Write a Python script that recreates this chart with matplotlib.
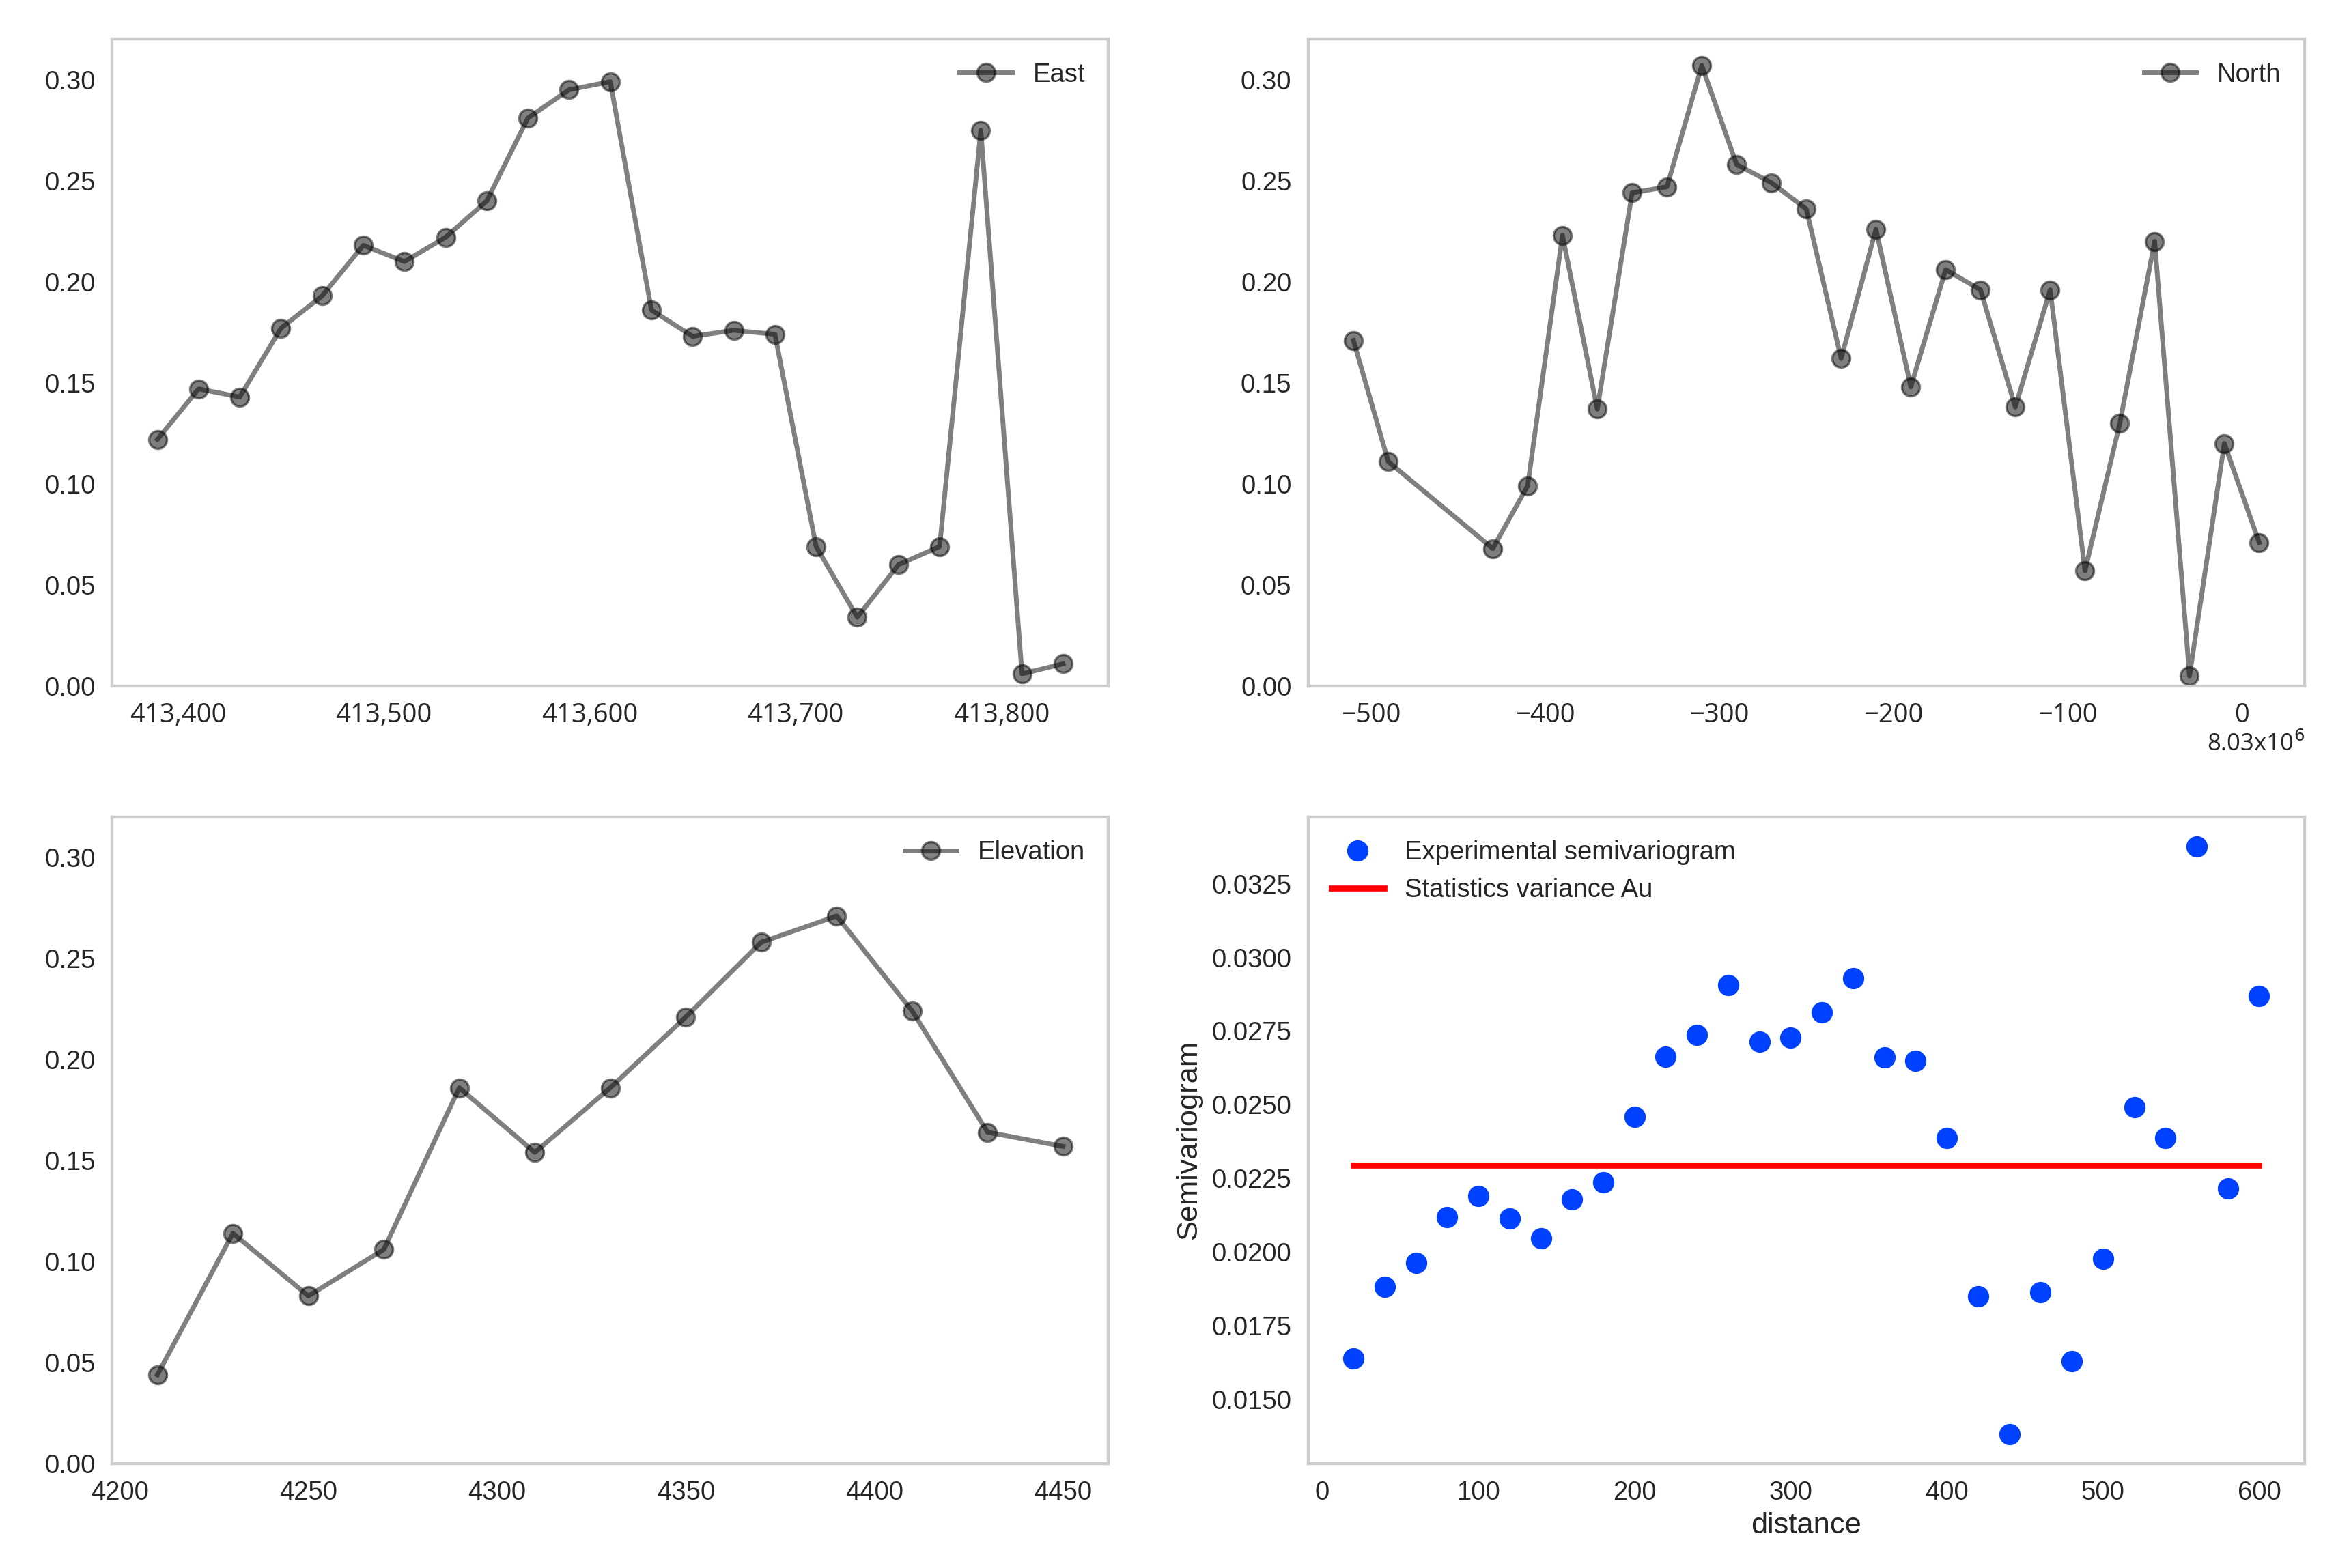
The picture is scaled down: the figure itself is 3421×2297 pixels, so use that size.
import numpy as np
import matplotlib
matplotlib.use("Agg")
import matplotlib.pyplot as plt
from matplotlib.ticker import StrMethodFormatter

# East profile
east_x = [413390, 413410, 413430, 413450, 413470, 413490, 413510, 413530, 413550, 413570,
          413590, 413610, 413630, 413650, 413670, 413690, 413710, 413730, 413750, 413770,
          413790, 413810, 413830]
east_y = [0.122, 0.147, 0.143, 0.177, 0.193, 0.218, 0.210, 0.222, 0.240, 0.281,
          0.295, 0.299, 0.186, 0.173, 0.176, 0.174, 0.069, 0.034, 0.060, 0.069,
          0.275, 0.006, 0.011]

# North profile (relative to 8.03x10^6)
north_x = [-510, -490, -430, -410, -390, -370, -350, -330, -310, -290, -270, -250, -230,
           -210, -190, -170, -150, -130, -110, -90, -70, -50, -30, -10, 10]
north_y = [0.171, 0.111, 0.068, 0.099, 0.223, 0.137, 0.244, 0.247, 0.307, 0.258, 0.249,
           0.236, 0.162, 0.226, 0.148, 0.206, 0.196, 0.138, 0.196, 0.057, 0.130, 0.220,
           0.005, 0.120, 0.071]

# Elevation profile
elev_x = [4210, 4230, 4250, 4270, 4290, 4310, 4330, 4350, 4370, 4390, 4410, 4430, 4450]
elev_y = [0.044, 0.114, 0.083, 0.106, 0.186, 0.154, 0.186, 0.221, 0.258, 0.271, 0.224,
          0.164, 0.157]

# Semivariogram
lag = list(range(20, 620, 20))
gamma = [0.01639, 0.01881, 0.01964, 0.02118, 0.02191, 0.02113, 0.02047, 0.02178, 0.02237,
         0.02459, 0.02664, 0.02738, 0.02906, 0.02713, 0.02728, 0.02814, 0.02930, 0.02660,
         0.02648, 0.02388, 0.01849, 0.01381, 0.01864, 0.01629, 0.01976, 0.02491, 0.02386,
         0.03377, 0.02215, 0.02869]
variance = 0.02295

plt.rcParams.update({
	'font.family': 'Liberation Sans',
	'font.size': 11,
	'text.color': '#262626',
	'axes.labelcolor': '#262626',
	'xtick.color': '#262626',
	'ytick.color': '#262626',
	'axes.edgecolor': '#cccccc',
	'axes.linewidth': 1.25,
	'xtick.major.size': 0,
	'ytick.major.size': 0,
	'xtick.major.pad': 7,
	'ytick.major.pad': 7,
})

fig = plt.figure(figsize=(13.684, 9.188), dpi=250)
lefts = [0.048, 0.56]
bottoms = [0.5625, 0.0665]
w, h = 0.4265, 0.4125
ax_e = fig.add_axes([lefts[0], bottoms[0], w, h])
ax_n = fig.add_axes([lefts[1], bottoms[0], w, h])
ax_z = fig.add_axes([lefts[0], bottoms[1], w, h])
ax_v = fig.add_axes([lefts[1], bottoms[1], w, h])

profiles = [(ax_e, east_x, east_y, "East"), (ax_n, north_x, north_y, "North"),
            (ax_z, elev_x, elev_y, "Elevation")]
for ax, x, y, name in profiles:
	ax.plot(x, y, 'ko-', alpha=0.5, lw=2, ms=7.5, label=name)
	ax.set_ylim(0, 0.32)
	ax.set_yticks(np.arange(0, 0.31, 0.05))
	ax.yaxis.set_major_formatter(StrMethodFormatter('{x:.2f}'))
	ax.legend(loc='upper right', frameon=False)

ax_e.set_xticks([413400, 413500, 413600, 413700, 413800])
ax_e.xaxis.set_major_formatter(StrMethodFormatter('{x:,.0f}'))
ax_n.set_xticks([-500, -400, -300, -200, -100, 0])
ax_n.xaxis.set_major_formatter(StrMethodFormatter('{x:.0f}'))
for ax in (ax_e, ax_n):
	for lbl in ax.get_xticklabels():
		lbl.set_family('Open Sans')
ax_n.text(1.0, -0.09, "8.03x10$^{6}$", transform=ax_n.transAxes, ha='right', va='center',
          family='Open Sans', fontsize=10)

ax_v.plot(lag, gamma, 'o', color='#0040ff', ms=8, ls='none', label="Experimental semivariogram")
ax_v.plot([lag[0], lag[-1]], [variance, variance], color='red', lw=2.5, label="Statistics variance Au")
ax_v.set_yticks(np.arange(0.015, 0.0326, 0.0025))
ax_v.yaxis.set_major_formatter(StrMethodFormatter('{x:.4f}'))
ax_v.set_xticks(range(0, 601, 100))
ax_v.set_xlabel("distance", fontsize=12.5, labelpad=3)
ax_v.set_ylabel("Semivariogram", fontsize=12.5, labelpad=4)
ax_v.legend(loc='upper left', frameon=False)

fig.savefig("out.png", dpi=250)
